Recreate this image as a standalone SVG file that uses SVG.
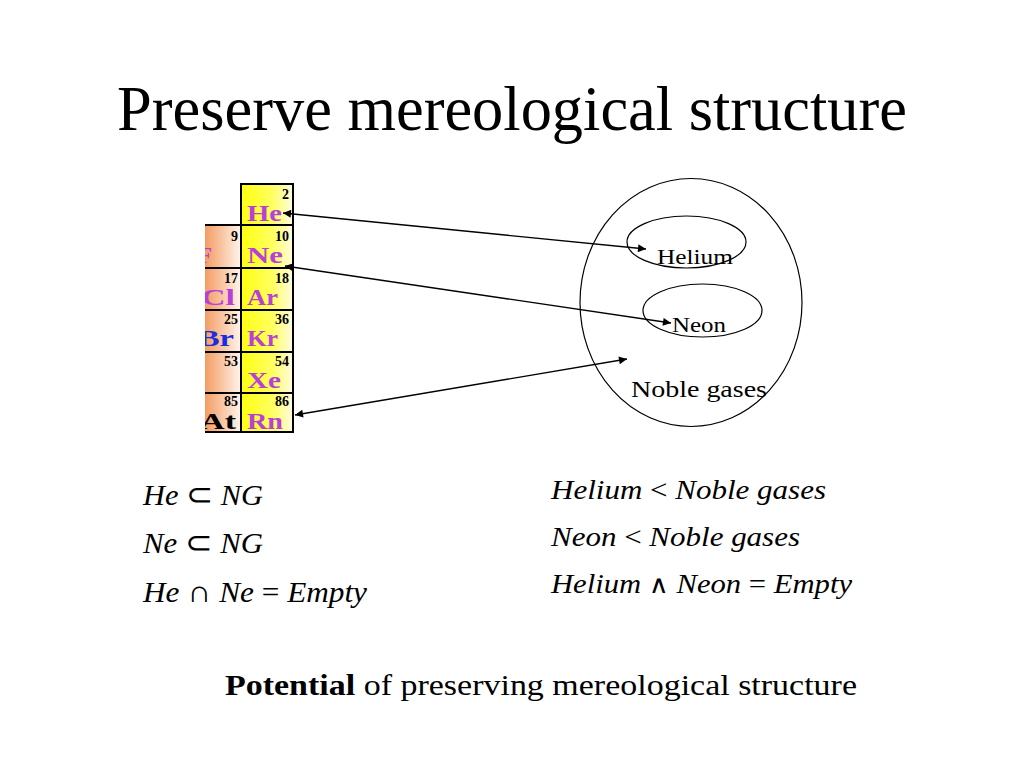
<svg xmlns="http://www.w3.org/2000/svg" width="1024" height="768" viewBox="0 0 1024 768">
<defs>
<linearGradient id="gy" x1="0" y1="0" x2="1" y2="0"><stop offset="0" stop-color="#ffff10"/><stop offset="0.6" stop-color="#ffff60"/><stop offset="1" stop-color="#fffbe0"/></linearGradient>
<linearGradient id="go" x1="0" y1="0" x2="1" y2="0"><stop offset="0" stop-color="#f29050"/><stop offset="1" stop-color="#fff4ec"/></linearGradient>
<clipPath id="tclip"><rect x="205" y="180" width="95" height="256"/></clipPath>
<marker id="ah" viewBox="0 0 10 10" refX="10" refY="5" markerWidth="10" markerHeight="8" markerUnits="userSpaceOnUse" orient="auto-start-reverse"><path d="M0,0 L10,5 L0,10 z" fill="#000"/></marker>
<style>
.t{font-family:"Liberation Serif","Times New Roman",serif;fill:#000}
.it{font-style:italic}
.sym{font-family:"Liberation Serif",serif;font-weight:bold;font-size:23px;fill:#b840d8}
.num{font-family:"Liberation Serif",serif;font-weight:bold;font-size:14px;fill:#000;text-anchor:end}
.cell{stroke:#000;stroke-width:2}
.conn{stroke:#000;stroke-width:1.3;fill:none;marker-start:url(#ah);marker-end:url(#ah)}
.ell{fill:none;stroke:#000;stroke-width:1.2}
</style>
</defs>
<rect width="1024" height="768" fill="#fff"/>
<text class="t" x="117" y="130" font-size="64" textLength="790" lengthAdjust="spacingAndGlyphs">Preserve mereological structure</text>

<g id="periodic-table" clip-path="url(#tclip)">
<rect class="cell" x="200" y="225" width="41" height="43" fill="url(#go)"/>
<rect class="cell" x="200" y="268" width="41" height="42" fill="url(#go)"/>
<rect class="cell" x="200" y="310" width="41" height="42" fill="url(#go)"/>
<rect class="cell" x="200" y="352" width="41" height="41" fill="url(#go)"/>
<rect class="cell" x="200" y="393" width="41" height="39" fill="url(#go)"/>
<rect class="cell" x="241" y="184" width="52" height="41" fill="url(#gy)"/>
<rect class="cell" x="241" y="225" width="52" height="43" fill="url(#gy)"/>
<rect class="cell" x="241" y="268" width="52" height="42" fill="url(#gy)"/>
<rect class="cell" x="241" y="310" width="52" height="42" fill="url(#gy)"/>
<rect class="cell" x="241" y="352" width="52" height="41" fill="url(#gy)"/>
<rect class="cell" x="241" y="393" width="52" height="39" fill="url(#gy)"/>
<text class="num" x="289" y="199">2</text>
<text class="sym" x="247" y="221" textLength="35" lengthAdjust="spacingAndGlyphs">He</text>
<text class="num" x="289" y="241">10</text>
<text class="sym" x="247" y="263" textLength="36" lengthAdjust="spacingAndGlyphs">Ne</text>
<text class="num" x="289" y="283">18</text>
<text class="sym" x="247" y="305" textLength="31" lengthAdjust="spacingAndGlyphs">Ar</text>
<text class="num" x="289" y="324">36</text>
<text class="sym" x="247" y="346" textLength="31" lengthAdjust="spacingAndGlyphs">Kr</text>
<text class="num" x="289" y="366">54</text>
<text class="sym" x="247" y="388" textLength="34" lengthAdjust="spacingAndGlyphs">Xe</text>
<text class="num" x="289" y="406">86</text>
<text class="sym" x="247" y="429" textLength="36" lengthAdjust="spacingAndGlyphs">Rn</text>
<text class="num" x="238" y="241">9</text>
<text class="sym" x="198" y="263">F</text>
<text class="num" x="238" y="283">17</text>
<text class="sym" x="201" y="305" textLength="34" lengthAdjust="spacingAndGlyphs">Cl</text>
<text class="num" x="238" y="324">25</text>
<text class="sym" x="198" y="346" style="fill:#1a2ee0" textLength="36" lengthAdjust="spacingAndGlyphs">Br</text>
<text class="num" x="238" y="366">53</text>
<text class="num" x="238" y="406">85</text>
<text class="sym" x="200" y="429" style="fill:#000" textLength="36" lengthAdjust="spacingAndGlyphs">At</text>
</g>

<g id="noble-gases">
<ellipse class="ell" cx="691" cy="302.5" rx="111" ry="124"/>
<text class="t" x="631" y="397" font-size="24" textLength="136" lengthAdjust="spacingAndGlyphs">Noble gases</text>
</g>
<g id="helium">
<ellipse class="ell" cx="686.5" cy="242" rx="59.5" ry="26"/>
<text class="t" x="657" y="264" font-size="22" textLength="76" lengthAdjust="spacingAndGlyphs">Helium</text>
</g>
<g id="neon">
<ellipse class="ell" cx="702.5" cy="310.5" rx="59.5" ry="26.5"/>
<text class="t" x="672" y="332" font-size="22" textLength="54" lengthAdjust="spacingAndGlyphs">Neon</text>
</g>

<g id="connectors">
<line class="conn" x1="283" y1="213" x2="646" y2="249"/>
<line class="conn" x1="285" y1="266" x2="671" y2="323"/>
<line class="conn" x1="295" y1="415" x2="627" y2="359"/>
</g>

<g id="set-relations">
<text class="t it" x="143" y="505" font-size="29" textLength="120" lengthAdjust="spacingAndGlyphs">He <tspan font-style="normal" font-size="31">⊂</tspan> NG</text>
<text class="t it" x="143" y="553" font-size="29" textLength="120" lengthAdjust="spacingAndGlyphs">Ne <tspan font-style="normal" font-size="31">⊂</tspan> NG</text>
<text class="t it" x="143" y="602" font-size="29" textLength="224" lengthAdjust="spacingAndGlyphs">He <tspan font-style="normal" font-size="31">∩</tspan> Ne <tspan font-style="normal">=</tspan> Empty</text>
</g>
<g id="mereology-relations">
<text class="t it" x="551" y="499" font-size="28" textLength="275" lengthAdjust="spacingAndGlyphs">Helium <tspan font-style="normal">&lt;</tspan> Noble  gases</text>
<text class="t it" x="551" y="546" font-size="28" textLength="249" lengthAdjust="spacingAndGlyphs">Neon <tspan font-style="normal">&lt;</tspan> Noble  gases</text>
<text class="t it" x="551" y="593" font-size="28" textLength="301" lengthAdjust="spacingAndGlyphs">Helium <tspan font-style="normal" font-weight="normal" font-family="DejaVu Sans" font-size="25">∧</tspan> Neon <tspan font-style="normal">=</tspan> Empty</text>
</g>

<text class="t" x="225" y="695" font-size="29" textLength="632" lengthAdjust="spacingAndGlyphs"><tspan font-weight="bold">Potential</tspan> of preserving mereological structure</text>
</svg>
